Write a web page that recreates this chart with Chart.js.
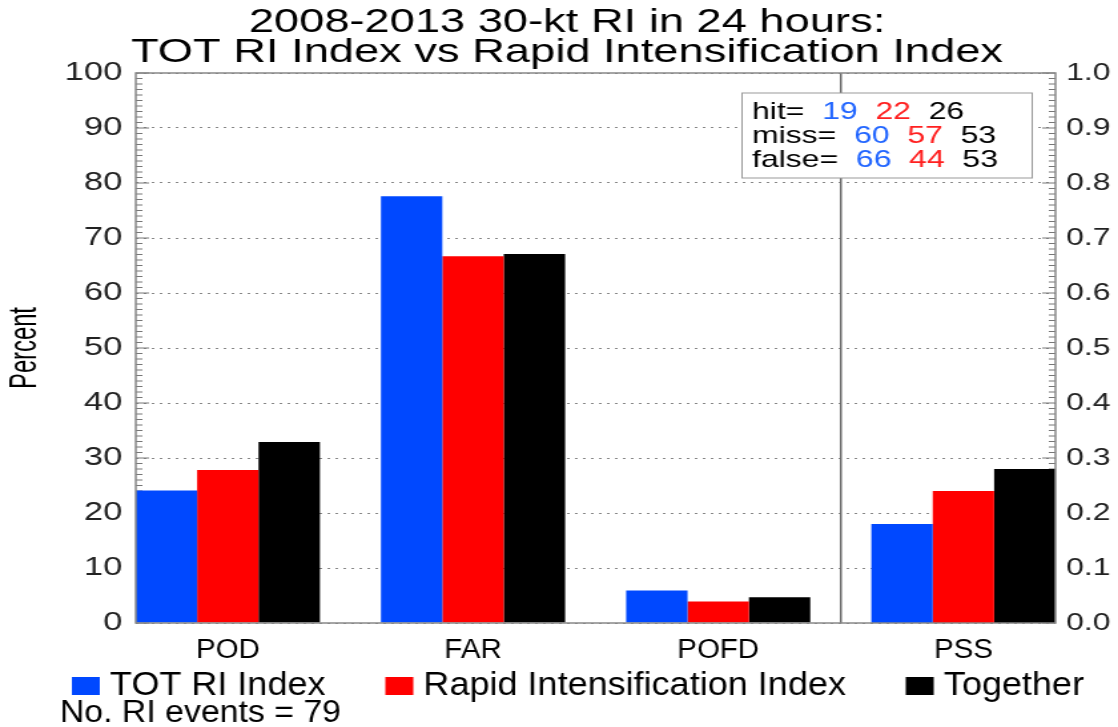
<!DOCTYPE html>
<html>
<head>
<meta charset="utf-8">
<script src="https://cdn.jsdelivr.net/npm/chart.js@4.4.1/dist/chart.umd.min.js"></script>
<style>
  html, body { margin: 0; padding: 0; background: #fff; overflow: hidden; }
  /* the original plot is drawn with a wide font, so the whole canvas is stretched sideways */
  #wrap { width: 840px; height: 727px; transform: scaleX(1.331); transform-origin: 0 0; }
</style>
</head>
<body>
<div id="wrap"><canvas id="riChart" width="840" height="727"></canvas></div>
<script>
const categories = ['POD', 'FAR', 'POFD', 'PSS'];
const seriesNames = ['TOT RI Index', 'Rapid Intensification Index', 'Together'];

// POD, FAR, POFD in percent (left axis)
const totPercent = [24.1, 77.6, 5.9];
const riiPercent = [27.8, 66.7, 3.9];
const togetherPercent = [32.9, 67.1, 4.7];
// PSS on the right axis (0 - 1)
const pssValues = [0.18, 0.24, 0.28];

const hits = [19, 22, 26];
const misses = [60, 57, 53];
const falseAlarms = [66, 44, 53];
const riEvents = 79;

const leftTicks = [0, 10, 20, 30, 40, 50, 60, 70, 80, 90, 100];
const rightTicks = [0.0, 0.1, 0.2, 0.3, 0.4, 0.5, 0.6, 0.7, 0.8, 0.9, 1.0];

const seriesColors = ['#0048ff', '#ff0000', '#000000'];
const FONT = '"Liberation Sans", Arial, sans-serif';
const NARROW = 0.82; // horizontal squeeze for the condensed labels

const percentSeries = [totPercent, riiPercent, togetherPercent];
const datasets = [];

percentSeries.forEach((vals, s) => {
	datasets.push({
		label: seriesNames[s],
		data: categories.map((c, i) => ({ x: i, y: i < vals.length ? vals[i] : null })),
		backgroundColor: seriesColors[s],
		yAxisID: 'y'
	});
});

pssValues.forEach((v, s) => {
	datasets.push({
		label: seriesNames[s] + ' (PSS)',
		data: categories.map((c, i) => ({ x: i, y: c === 'PSS' ? v : null })),
		backgroundColor: seriesColors[s],
		yAxisID: 'y1'
	});
});

// draw condensed text (no narrow font installed, so squeeze it)
function fillNarrow(ctx, text, x, y) {
	ctx.save();
	ctx.translate(x, y);
	ctx.scale(NARROW, 1);
	ctx.fillText(text, 0, 0);
	ctx.restore();
	return ctx.measureText(text).width * NARROW;
}

const riDecorations = {
	id: 'riDecorations',

	beforeDatasetsDraw(chart) {
		const { ctx, chartArea: area, scales: { x, y, y1 } } = chart;
		ctx.save();
		ctx.strokeStyle = '#777';
		ctx.lineWidth = 1;

		// inner tick marks on both axes, minor every 1% (0.01)
		for (let i = 0; i <= 100; i++) {
			const len = i % 10 === 0 ? 10 : 5;
			const yl = y.getPixelForValue(i);
			const yr = y1.getPixelForValue(i / 100);
			ctx.beginPath();
			ctx.moveTo(area.left, yl);
			ctx.lineTo(area.left + len, yl);
			ctx.moveTo(area.right, yr);
			ctx.lineTo(area.right - len, yr);
			ctx.stroke();
		}

		// separator between the percent panel and PSS
		const xs = x.getPixelForValue(2.5);
		ctx.strokeStyle = '#666';
		ctx.lineWidth = 1.5;
		ctx.beginPath();
		ctx.moveTo(xs, area.top);
		ctx.lineTo(xs, area.bottom);
		ctx.stroke();
		ctx.restore();
	},

	afterDatasetsDraw(chart) {
		const { ctx, chartArea: area } = chart;
		ctx.save();

		// plot frame
		ctx.strokeStyle = '#888';
		ctx.lineWidth = 1.5;
		ctx.strokeRect(area.left, area.top, area.right - area.left, area.bottom - area.top);

		// counts box
		ctx.fillStyle = '#fff';
		ctx.fillRect(557.5, 93, 218, 85);
		ctx.strokeStyle = '#999';
		ctx.lineWidth = 1;
		ctx.strokeRect(557.5, 93, 218, 85);

		const rows = [['hit=', hits], ['miss=', misses], ['false=', falseAlarms]];
		ctx.font = '24px ' + FONT;
		ctx.textAlign = 'left';
		ctx.textBaseline = 'alphabetic';
		rows.forEach((row, r) => {
			let xp = 565;
			const yp = 119 + r * 24;
			ctx.fillStyle = '#000';
			ctx.fillText(row[0], xp, yp);
			xp += ctx.measureText(row[0] + '  ').width;
			row[1].forEach((n, s) => {
				ctx.fillStyle = s === 0 ? '#2266ff' : (s === 1 ? '#ff2020' : '#000');
				ctx.fillText(String(n), xp, yp);
				xp += ctx.measureText(n + '  ').width;
			});
		});
		ctx.restore();
	},

	afterDraw(chart) {
		const { ctx, chartArea: area, scales: { x } } = chart;
		ctx.save();
		ctx.fillStyle = '#000';

		// title
		ctx.font = '34px ' + FONT;
		ctx.textAlign = 'center';
		ctx.textBaseline = 'alphabetic';
		ctx.fillText('2008-2013 30-kt RI in 24 hours:', 426, 32);
		ctx.fillText('TOT RI Index vs Rapid Intensification Index', 426, 62);

		// category labels under the bars
		ctx.font = '27px ' + FONT;
		x.ticks.forEach((t) => {
			fillNarrow(ctx, categories[t.value], x.getPixelForValue(t.value), area.bottom + 35);
		});

		// y axis title
		ctx.save();
		ctx.translate(19, (area.top + area.bottom) / 2);
		ctx.rotate(-Math.PI / 2);
		ctx.font = '29px ' + FONT;
		ctx.textBaseline = 'middle';
		fillNarrow(ctx, 'Percent', 0, 0);
		ctx.restore();

		// legend
		ctx.font = '33px ' + FONT;
		ctx.textAlign = 'left';
		let lx = 54;
		seriesNames.forEach((name, s) => {
			ctx.fillStyle = seriesColors[s];
			ctx.fillRect(lx, 677, 21, 18);
			ctx.fillStyle = '#000';
			const w = fillNarrow(ctx, name, lx + 28.6, 695);
			lx += 28.6 + w + 45;
		});

		ctx.font = '31px ' + FONT;
		fillNarrow(ctx, 'No. RI events = ' + riEvents, 45, 722);
		ctx.restore();
	}
};

new Chart(document.getElementById('riChart'), {
	type: 'bar',
	data: { datasets: datasets },
	options: {
		responsive: false,
		animation: false,
		skipNull: true,
		categoryPercentage: 0.751,
		barPercentage: 1,
		layout: { padding: { top: 73, bottom: 64, left: 0, right: 0 } },
		plugins: {
			legend: { display: false },
			title: { display: false },
			tooltip: { enabled: false }
		},
		scales: {
			x: {
				type: 'linear',
				offset: false,
				min: -0.3755,
				max: 3.3755,
				afterBuildTicks: (scale) => { scale.ticks = categories.map((c, i) => ({ value: i })); },
				afterFit: (scale) => { scale.height = 40; },
				grid: { display: false, drawTicks: false },
				border: { display: false },
				ticks: { display: false }
			},
			y: {
				min: 0,
				max: 100,
				afterBuildTicks: (scale) => { scale.ticks = leftTicks.map(v => ({ value: v })); },
				afterFit: (scale) => { scale.width = 102; },
				grid: { color: '#888', lineWidth: 1, drawTicks: false },
				border: { display: false, dash: [2, 4] },
				ticks: { padding: 10, color: '#222', font: { family: FONT, size: 26 } }
			},
			y1: {
				position: 'right',
				min: 0,
				max: 1,
				afterBuildTicks: (scale) => { scale.ticks = rightTicks.map(v => ({ value: v })); },
				afterFit: (scale) => { scale.width = 47; },
				grid: { display: false, drawTicks: false },
				border: { display: false },
				ticks: {
					padding: 8,
					color: '#222',
					font: { family: FONT, size: 24 },
					callback: (v) => v.toFixed(1)
				}
			}
		}
	},
	plugins: [riDecorations]
});
</script>
</body>
</html>
